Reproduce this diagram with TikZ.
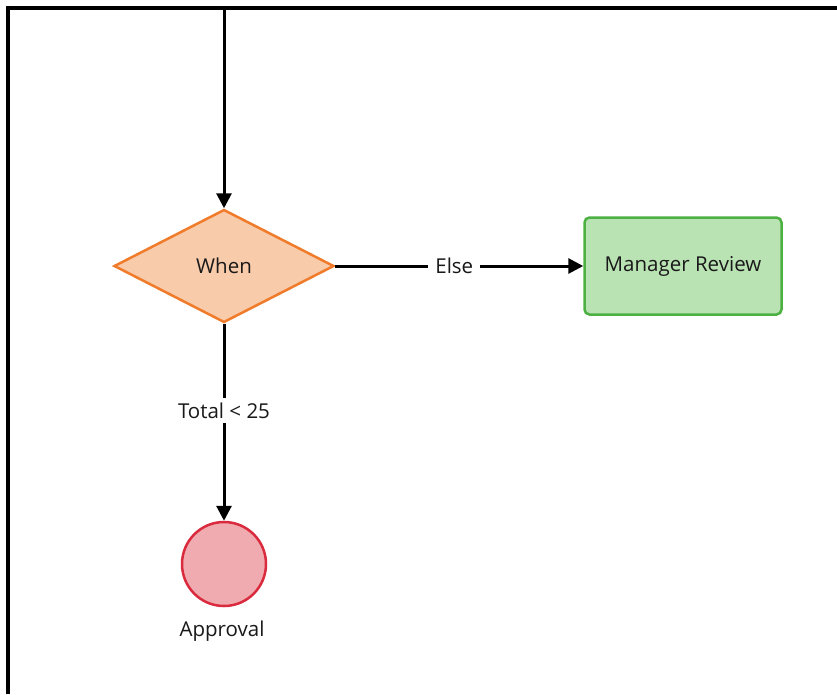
\documentclass[tikz,border=0pt]{standalone}
\usepackage{fontspec}
\setmainfont{Open Sans}
\usetikzlibrary{shapes.geometric,arrows.meta}
\definecolor{decfill}{HTML}{F8CBAA}
\definecolor{decline}{HTML}{F07B2A}
\definecolor{taskfill}{HTML}{BAE3B4}
\definecolor{taskline}{HTML}{4DB043}
\definecolor{endfill}{HTML}{F0ABB0}
\definecolor{endline}{HTML}{DA2A3D}
\tikzset{
  flow/.style={line width=3pt, -{Triangle[length=15pt,width=15pt]}},
  txt/.style={font=\fontsize{20.5}{24}\selectfont, text=black!90},
  decision/.style={diamond, aspect=1.95, minimum width=220pt, minimum height=113pt,
    inner sep=0pt, fill=decfill, draw=decline, line width=2.5pt, txt},
  task/.style={rectangle, rounded corners=5pt, minimum width=197pt, minimum height=97pt,
    fill=taskfill, draw=taskline, line width=2.5pt, txt},
  terminal/.style={circle, minimum size=84pt, inner sep=0pt, fill=endfill, draw=endline, line width=2.5pt},
  edgelabel/.style={fill=white, inner xsep=7pt, inner ysep=5pt, txt},
}
\begin{document}
\begin{tikzpicture}[x=1pt,y=-1pt]
  \useasboundingbox (0,0) rectangle (837,694);
  \fill[white] (0,0) rectangle (837,694);
  % frame edges
  \draw[line width=4pt] (8,694) -- (8,8) -- (837,8);
  % nodes
  \node[decision] (when) at (224,266) {When};
  \node[task] (review) at (683,266) {Manager Review};
  \node[terminal] (approval) at (224,564) {};
  \node[txt, anchor=base] (approvallbl) at (222,636) {Approval};
  \coordinate (entry) at (224,10);
  % connectors
  \draw[flow] (entry) -- (when.north);
  \draw[flow] (when.east) -- node[edgelabel, pos=0.48] (elselbl) {Else} (review.west);
  \draw[flow] (when.south) -- node[edgelabel, pos=0.44] (totallbl) {Total < 25} (approval.north);
\end{tikzpicture}
\end{document}
